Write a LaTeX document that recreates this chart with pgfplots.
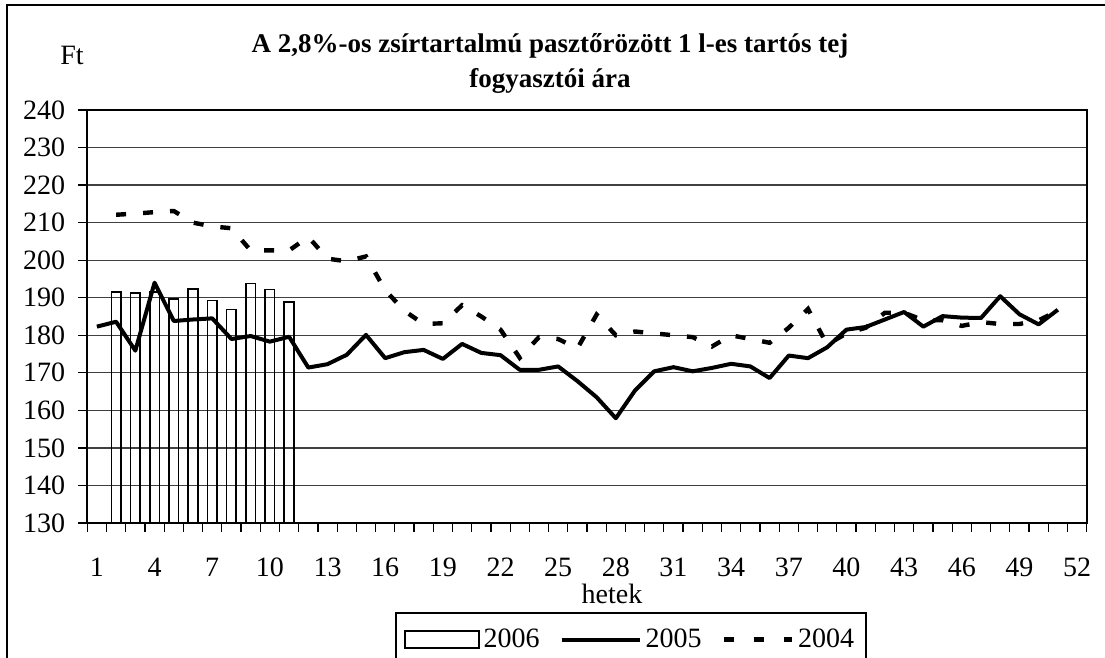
\documentclass[border=0pt]{standalone}
\usepackage{fontspec}
\setmainfont{Liberation Serif}
\usepackage{pgfplots}
\pgfplotsset{compat=1.18}
\begin{document}
\begin{tikzpicture}
\useasboundingbox (0pt,0pt) rectangle (552.5pt,329pt);
\draw[line width=1pt] (3.5pt,-20pt) rectangle (570pt,326.5pt);
\node[font=\fontsize{14}{16}\selectfont] at (36pt,301.5pt) {Ft};
\node[font=\bfseries\fontsize{13.5}{17.5}\selectfont, align=center] at (275pt,297.5pt) {A 2,8\%-os zsírtartalmú pasztőrözött 1 l-es tartós tej\\fogyasztói ára};
\begin{axis}[
  at={(43.65pt,67.5pt)}, anchor=south west,
  width=499.7pt, height=206.5pt, scale only axis,
  xmin=0.5, xmax=52.5, ymin=130, ymax=240,
  xtick={0.5,1.5,...,52.5}, xticklabels={},
  extra x ticks={1,4,7,10,13,16,19,22,25,28,31,34,37,40,43,46,49,52},
  extra x tick labels={1,4,7,10,13,16,19,22,25,28,31,34,37,40,43,46,49,52},
  extra x tick style={major tick length=0pt, xticklabel style={yshift=-14pt}},
  ytick={130,140,...,240},
  tick pos=left, tick align=outside,
  major tick length=4.5pt,
  tick style={black, line width=0.6pt},
  axis line style={line width=1pt},
  ymajorgrids, major grid style={black!75, line width=0.6pt},
  ticklabel style={font=\fontsize{14}{16}\selectfont},
  /pgf/number format/assume math mode=true,
  yticklabel style={xshift=-3pt},
  xlabel={hetek}, xlabel style={font=\fontsize{14}{16}\selectfont, at={(axis description cs:0.525,-0.172)}, anchor=center},
  legend columns=3,
  legend style={at={(axis description cs:0.3079,-0.215)}, anchor=north west, draw=black, line width=1pt,
    font=\fontsize{14}{16}\selectfont, inner xsep=4pt, inner ysep=6pt,
    /tikz/every even column/.append style={column sep=8pt}},
]
\addplot[ybar, bar width=0.5, draw=black, line width=0.8pt, fill=none,
  legend image code/.code={\draw[black, line width=0.8pt, fill=white] (0pt,-4.25pt) rectangle (37pt,4.25pt);}]
  coordinates {(2,191.5) (3,191.3) (4,191.5) (5,189.7) (6,192.4) (7,189.3) (8,186.9) (9,193.8) (10,192.2) (11,188.9)};
\addlegendentry{2006}
\addplot[black, line width=2pt, line join=round,
  legend image code/.code={\draw[black, line width=2pt] (0pt,0pt) -- (39pt,0pt);}]
  coordinates {(1,182.3) (2,183.6) (3,175.9) (4,194.0) (5,183.8) (6,184.2) (7,184.5) (8,179.0) (9,179.8) (10,178.3)
  (11,179.6) (12,171.4) (13,172.3) (14,174.8) (15,180.1) (16,173.9) (17,175.5) (18,176.1) (19,173.7) (20,177.7)
  (21,175.3) (22,174.7) (23,170.8) (24,170.8) (25,171.7) (26,167.8) (27,163.5) (28,157.9) (29,165.3) (30,170.4)
  (31,171.5) (32,170.4) (33,171.3) (34,172.4) (35,171.7) (36,168.6) (37,174.6) (38,173.9) (39,176.8) (40,181.5)
  (41,182.2) (42,184.2) (43,186.2) (44,182.3) (45,185.1) (46,184.7) (47,184.6) (48,190.4) (49,185.6) (50,182.9)
  (51,186.8)};
\addlegendentry{2005}
\addplot[black, line width=2.2pt, dash pattern=on 5pt off 8.5pt,
  legend image code/.code={\draw[black, line width=2.2pt, dash pattern=on 5pt off 10pt] (0pt,0pt) -- (34pt,0pt);}]
  coordinates {(2,212.1) (3,212.4) (4,212.8) (5,213.1) (6,210.0) (7,209.0) (8,208.5) (9,202.6) (10,202.6)
  (11,202.6) (12,206.2) (13,200.4) (14,199.7) (15,201.0) (16,192.0) (17,186.5) (18,183.0) (19,183.2) (20,188.0)
  (21,185.0) (22,181.5) (23,174.0) (24,179.5) (25,179.0) (26,176.5) (27,185.5) (28,180.0) (29,181.0) (30,180.5)
  (31,180.0) (32,179.5) (33,177.0) (34,180.0) (35,179.0) (36,178.0) (37,182.0) (38,187.0) (39,177.5) (40,180.5)
  (41,182.0) (42,186.0) (43,186.0) (44,184.0) (45,184.0) (46,182.5) (47,183.5) (48,183.0) (49,183.0) (50,184.0)
  (51,186.5)};
\addlegendentry{2004}
\end{axis}
\end{tikzpicture}
\end{document}
